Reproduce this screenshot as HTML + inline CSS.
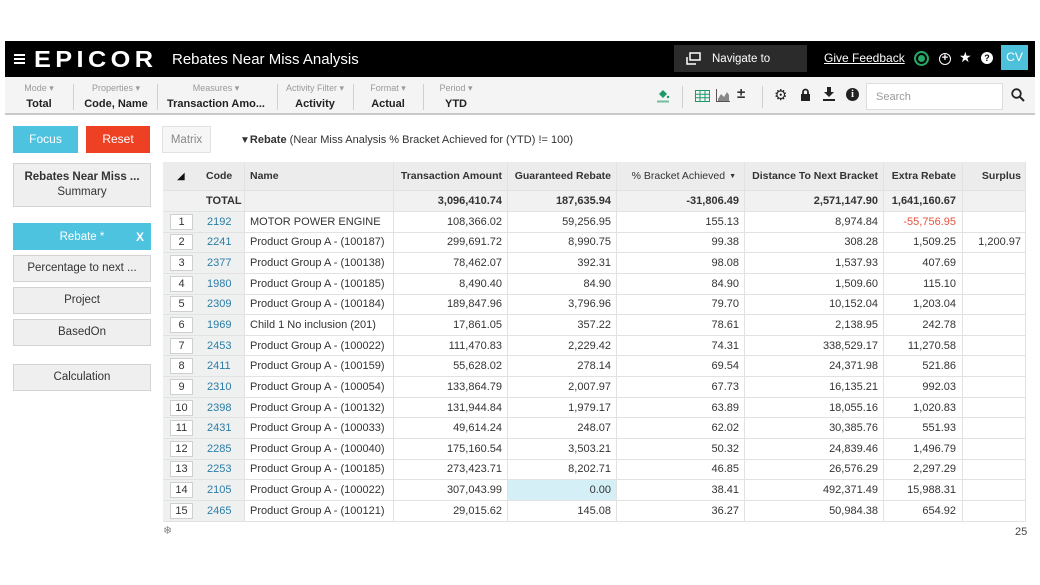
<!DOCTYPE html>
<html><head><meta charset="utf-8">
<style>
*{box-sizing:border-box;margin:0;padding:0}
body{width:1040px;height:585px;background:#fff;font-family:"Liberation Sans",Arial,sans-serif;color:#333;position:relative;overflow:hidden}
.a{position:absolute}
.topbar{left:5px;top:41px;width:1030px;height:36px;background:#000}
.tb{left:5px;top:77px;width:1030px;height:38px;background:#f4f4f4;border-bottom:2px solid #c9c9c9}
.grp{position:absolute;top:0;height:36px;text-align:center}
.grp .l{font-size:9px;color:#9a9a9a;margin-top:6px;white-space:nowrap}
.grp .v{font-size:11px;font-weight:bold;color:#222;margin-top:4px;white-space:nowrap}
.sep{position:absolute;width:1px;background:#d0d0d0}
.btn{position:absolute;font-size:12px;text-align:center;white-space:nowrap}
.lp{position:absolute;left:13px;width:138px;background:#efefef;border:1px solid #d3d3d3;font-size:11.5px;text-align:center;color:#333}
.row{position:absolute;left:163px;width:863px;display:flex;font-size:11px;border-bottom:1px solid #e2e2e2}
.row>div{height:100%;display:flex;align-items:center;border-right:1px solid #e2e2e2;white-space:nowrap;overflow:hidden}
.c0{width:33px;justify-content:flex-start;padding-left:7px;border-right:none!important}
.c1{width:49px;padding-left:11px}
.c2{width:149px;padding-left:5px}
.c3{width:114px;justify-content:flex-end;padding-right:5px}
.c4{width:109px;justify-content:flex-end;padding-right:5px}
.c5{width:128px;justify-content:flex-end;padding-right:5px}
.c6{width:139px;justify-content:flex-end;padding-right:5px}
.c7{width:79px;justify-content:flex-end;padding-right:6px}
.c8{width:63px;justify-content:flex-end;padding-right:4px;border-right:1px solid #e2e2e2}
.body .c0,.body .c1{background:#eff0f0}
.body .c1{color:#2b7da6}
.ib{width:23px;height:16px;background:#fff;border:1px solid #cfcfcf;display:flex;align-items:center;justify-content:center;font-size:11px;color:#333}
.hdr{background:#ececec;font-weight:bold;font-size:10.5px}
.tot{background:#f1f1f1;font-weight:bold}
</style></head><body>

<!-- Top black bar -->
<div class="a topbar"></div>
<div class="a" style="left:14px;top:54px;width:11px;height:2px;background:#fff;box-shadow:0 4px 0 #fff,0 8px 0 #fff"></div>
<div class="a" style="left:34px;top:47px;font-size:23px;font-weight:bold;color:#fff;letter-spacing:4px;transform:scaleX(1.1);transform-origin:left;line-height:24px">EPICOR</div>
<div class="a" style="left:172px;top:51px;font-size:15px;color:#fff">Rebates Near Miss Analysis</div>

<div class="a" style="left:674px;top:45px;width:133px;height:27px;background:#2b2b2b"></div>
<svg class="a" style="left:685px;top:52px" width="16" height="14" viewBox="0 0 16 14"><rect x="5" y="1" width="10" height="7" fill="none" stroke="#fff" stroke-width="1.5"/><path d="M2 5v7h9" fill="none" stroke="#fff" stroke-width="1.5"/></svg>
<div class="a" style="left:712px;top:53px;font-size:11.5px;color:#fff">Navigate to</div>
<div class="a" style="left:824px;top:51px;font-size:12px;color:#fff;text-decoration:underline">Give Feedback</div>
<div class="a" style="left:914px;top:51px;width:15px;height:15px;border-radius:50%;background:#27a866;border:2px solid #27a866;box-shadow:inset 0 0 0 2px #000"></div>
<div class="a" style="left:939px;top:53px;width:12px;height:12px;border-radius:50%;border:1.5px solid #fff;color:#fff;font-size:11px;line-height:9px;text-align:center;font-weight:bold">+</div>
<div class="a" style="left:959px;top:50px;font-size:14px;color:#fff;font-family:'DejaVu Sans',sans-serif">★</div>
<div class="a" style="left:981px;top:52px;width:12px;height:12px;border-radius:50%;background:#fff;color:#000;font-size:9px;line-height:12px;text-align:center;font-weight:bold">?</div>
<div class="a" style="left:1001px;top:45px;width:27px;height:25px;background:#4dc1dc;color:#fff;font-size:12px;line-height:25px;text-align:center">CV</div>

<!-- Toolbar -->
<div class="a tb"></div>
<div class="grp" style="left:9px;top:77px;width:60px"><div class="l">Mode ▾</div><div class="v">Total</div></div>
<div class="sep" style="left:73px;top:84px;height:26px"></div>
<div class="grp" style="left:76px;top:77px;width:80px"><div class="l">Properties ▾</div><div class="v">Code, Name</div></div>
<div class="sep" style="left:157px;top:84px;height:26px"></div>
<div class="grp" style="left:160px;top:77px;width:112px"><div class="l">Measures ▾</div><div class="v">Transaction Amo...</div></div>
<div class="sep" style="left:277px;top:84px;height:26px"></div>
<div class="grp" style="left:279px;top:77px;width:72px"><div class="l">Activity Filter ▾</div><div class="v">Activity</div></div>
<div class="sep" style="left:353px;top:84px;height:26px"></div>
<div class="grp" style="left:355px;top:77px;width:66px"><div class="l">Format ▾</div><div class="v">Actual</div></div>
<div class="sep" style="left:423px;top:84px;height:26px"></div>
<div class="grp" style="left:426px;top:77px;width:60px"><div class="l">Period ▾</div><div class="v">YTD</div></div>

<svg class="a" style="left:656px;top:88px" width="14" height="15" viewBox="0 0 14 15"><path d="M3 6l4-4 4 4-4 4z" fill="#1e9a6a"/><circle cx="12" cy="9" r="1.2" fill="#1e9a6a"/><rect x="1" y="12.5" width="12" height="2" fill="#1e9a6a" opacity=".6"/></svg>
<div class="sep" style="left:682px;top:86px;height:22px"></div>
<svg class="a" style="left:695px;top:90px" width="15" height="12" viewBox="0 0 15 12"><rect x=".5" y=".5" width="14" height="11" fill="none" stroke="#1e9a6a"/><path d="M5 .5v11M10 .5v11M.5 4.2h14M.5 7.8h14" stroke="#1e9a6a"/></svg>
<svg class="a" style="left:716px;top:89px" width="14" height="13" viewBox="0 0 14 13"><path d="M.5 0v12.5H14" fill="none" stroke="#555"/><path d="M2 10l3-5 3 3 3-5 2 3v6H2z" fill="#888"/></svg>
<div class="a" style="left:737px;top:85px;font-size:15px;color:#333;font-weight:bold">±</div>
<div class="sep" style="left:762px;top:86px;height:22px"></div>
<div class="a" style="left:774px;top:86px;font-size:15px;color:#222;font-family:'DejaVu Sans',sans-serif">⚙</div>
<svg class="a" style="left:800px;top:88px" width="11" height="13" viewBox="0 0 11 13"><path d="M3 6V4a2.5 2.5 0 015 0v2" fill="none" stroke="#222" stroke-width="1.8"/><rect x="1" y="6" width="9" height="7" fill="#222"/></svg>
<svg class="a" style="left:823px;top:87px" width="12" height="14" viewBox="0 0 12 14"><path d="M4 0h4v5h3L6 10 1 5h3z" fill="#222"/><rect x="0" y="12" width="12" height="2" fill="#222"/></svg>
<div class="a" style="left:846px;top:88px;width:13px;height:13px;border-radius:50%;background:#222;color:#fff;font-size:10px;line-height:13px;text-align:center;font-weight:bold;font-family:'Liberation Serif',serif">i</div>
<div class="a" style="left:866px;top:83px;width:137px;height:27px;background:#fff;border:1px solid #ddd"></div>
<div class="a" style="left:876px;top:91px;font-size:11px;color:#9a9a9a">Search</div>
<svg class="a" style="left:1011px;top:88px" width="14" height="14" viewBox="0 0 14 14"><circle cx="5.5" cy="5.5" r="4.3" fill="none" stroke="#222" stroke-width="1.8"/><path d="M8.6 8.6L13 13" stroke="#222" stroke-width="2"/></svg>

<!-- Buttons -->
<div class="btn" style="left:13px;top:126px;width:65px;height:27px;line-height:27px;background:#4ec3df;color:#fff">Focus</div>
<div class="btn" style="left:86px;top:126px;width:64px;height:27px;line-height:27px;background:#ee4124;color:#fff">Reset</div>
<div class="btn" style="left:162px;top:126px;width:49px;height:27px;line-height:27px;background:#f6f6f6;border:1px solid #e2e2e2;color:#888;font-size:11.5px">Matrix</div>
<div class="a" style="left:240px;top:134px;font-size:11px;color:#333;white-space:nowrap"><span style="font-size:10px">▼</span><b>Rebate</b> (Near Miss Analysis % Bracket Achieved for (YTD) != 100)</div>

<!-- Left panel -->
<div class="lp" style="top:163px;height:44px;padding-top:6px;line-height:15px"><b>Rebates Near Miss ...</b><br>Summary</div>
<div class="lp" style="top:223px;height:27px;line-height:27px;background:#4ec3df;border-color:#4ec3df;color:#fff">Rebate *<span style="position:absolute;right:6px;font-weight:bold;font-size:12px">X</span></div>
<div class="lp" style="top:255px;height:27px;line-height:25px">Percentage to next ...</div>
<div class="lp" style="top:287px;height:27px;line-height:25px">Project</div>
<div class="lp" style="top:319px;height:27px;line-height:25px">BasedOn</div>
<div class="lp" style="top:364px;height:27px;line-height:25px">Calculation</div>

<!-- Table header -->
<div class="row hdr" style="top:162px;height:29px">
<div class="c0" style="padding-left:14px"><span style="font-family:'DejaVu Sans',sans-serif;font-size:10px;color:#111">◢</span></div>
<div class="c1" style="padding-left:10px;border-right:1px solid #e2e2e2">Code</div>
<div class="c2">Name</div>
<div class="c3">Transaction Amount</div>
<div class="c4">Guaranteed Rebate</div>
<div class="c5" style="font-weight:normal;padding-right:8px">% Bracket Achieved <span style="font-size:7px;margin-left:4px">▼</span></div>
<div class="c6">Distance To Next Bracket</div>
<div class="c7">Extra Rebate</div>
<div class="c8">Surplus</div>
</div>
<div class="row tot" style="top:191px;height:21px">
<div class="c0"></div>
<div class="c1" style="padding-left:10px;border-right:1px solid #e2e2e2">TOTAL</div>
<div class="c2"></div>
<div class="c3">3,096,410.74</div>
<div class="c4">187,635.94</div>
<div class="c5">-31,806.49</div>
<div class="c6">2,571,147.90</div>
<div class="c7">1,641,160.67</div>
<div class="c8"></div>
</div>

<div class="body">
<div class="row" style="top:212px;height:20.64px"><div class="c0"><div class="ib">1</div></div><div class="c1">2192</div><div class="c2">MOTOR POWER ENGINE</div><div class="c3">108,366.02</div><div class="c4">59,256.95</div><div class="c5">155.13</div><div class="c6">8,974.84</div><div class="c7" style="color:#e5533c">-55,756.95</div><div class="c8"></div></div>
<div class="row" style="top:232.64px;height:20.64px"><div class="c0"><div class="ib">2</div></div><div class="c1">2241</div><div class="c2">Product Group A - (100187)</div><div class="c3">299,691.72</div><div class="c4">8,990.75</div><div class="c5">99.38</div><div class="c6">308.28</div><div class="c7">1,509.25</div><div class="c8">1,200.97</div></div>
<div class="row" style="top:253.28px;height:20.64px"><div class="c0"><div class="ib">3</div></div><div class="c1">2377</div><div class="c2">Product Group A - (100138)</div><div class="c3">78,462.07</div><div class="c4">392.31</div><div class="c5">98.08</div><div class="c6">1,537.93</div><div class="c7">407.69</div><div class="c8"></div></div>
<div class="row" style="top:273.92px;height:20.64px"><div class="c0"><div class="ib">4</div></div><div class="c1">1980</div><div class="c2">Product Group A - (100185)</div><div class="c3">8,490.40</div><div class="c4">84.90</div><div class="c5">84.90</div><div class="c6">1,509.60</div><div class="c7">115.10</div><div class="c8"></div></div>
<div class="row" style="top:294.56px;height:20.64px"><div class="c0"><div class="ib">5</div></div><div class="c1">2309</div><div class="c2">Product Group A - (100184)</div><div class="c3">189,847.96</div><div class="c4">3,796.96</div><div class="c5">79.70</div><div class="c6">10,152.04</div><div class="c7">1,203.04</div><div class="c8"></div></div>
<div class="row" style="top:315.2px;height:20.64px"><div class="c0"><div class="ib">6</div></div><div class="c1">1969</div><div class="c2">Child 1 No inclusion (201)</div><div class="c3">17,861.05</div><div class="c4">357.22</div><div class="c5">78.61</div><div class="c6">2,138.95</div><div class="c7">242.78</div><div class="c8"></div></div>
<div class="row" style="top:335.84px;height:20.64px"><div class="c0"><div class="ib">7</div></div><div class="c1">2453</div><div class="c2">Product Group A - (100022)</div><div class="c3">111,470.83</div><div class="c4">2,229.42</div><div class="c5">74.31</div><div class="c6">338,529.17</div><div class="c7">11,270.58</div><div class="c8"></div></div>
<div class="row" style="top:356.48px;height:20.64px"><div class="c0"><div class="ib">8</div></div><div class="c1">2411</div><div class="c2">Product Group A - (100159)</div><div class="c3">55,628.02</div><div class="c4">278.14</div><div class="c5">69.54</div><div class="c6">24,371.98</div><div class="c7">521.86</div><div class="c8"></div></div>
<div class="row" style="top:377.12px;height:20.64px"><div class="c0"><div class="ib">9</div></div><div class="c1">2310</div><div class="c2">Product Group A - (100054)</div><div class="c3">133,864.79</div><div class="c4">2,007.97</div><div class="c5">67.73</div><div class="c6">16,135.21</div><div class="c7">992.03</div><div class="c8"></div></div>
<div class="row" style="top:397.76px;height:20.64px"><div class="c0"><div class="ib">10</div></div><div class="c1">2398</div><div class="c2">Product Group A - (100132)</div><div class="c3">131,944.84</div><div class="c4">1,979.17</div><div class="c5">63.89</div><div class="c6">18,055.16</div><div class="c7">1,020.83</div><div class="c8"></div></div>
<div class="row" style="top:418.4px;height:20.64px"><div class="c0"><div class="ib">11</div></div><div class="c1">2431</div><div class="c2">Product Group A - (100033)</div><div class="c3">49,614.24</div><div class="c4">248.07</div><div class="c5">62.02</div><div class="c6">30,385.76</div><div class="c7">551.93</div><div class="c8"></div></div>
<div class="row" style="top:439.04px;height:20.64px"><div class="c0"><div class="ib">12</div></div><div class="c1">2285</div><div class="c2">Product Group A - (100040)</div><div class="c3">175,160.54</div><div class="c4">3,503.21</div><div class="c5">50.32</div><div class="c6">24,839.46</div><div class="c7">1,496.79</div><div class="c8"></div></div>
<div class="row" style="top:459.68px;height:20.64px"><div class="c0"><div class="ib">13</div></div><div class="c1">2253</div><div class="c2">Product Group A - (100185)</div><div class="c3">273,423.71</div><div class="c4">8,202.71</div><div class="c5">46.85</div><div class="c6">26,576.29</div><div class="c7">2,297.29</div><div class="c8"></div></div>
<div class="row" style="top:480.32px;height:20.64px"><div class="c0"><div class="ib">14</div></div><div class="c1">2105</div><div class="c2">Product Group A - (100022)</div><div class="c3">307,043.99</div><div class="c4" style="background:#d4f0f6">0.00</div><div class="c5">38.41</div><div class="c6">492,371.49</div><div class="c7">15,988.31</div><div class="c8"></div></div>
<div class="row" style="top:500.96px;height:20.64px"><div class="c0"><div class="ib">15</div></div><div class="c1">2465</div><div class="c2">Product Group A - (100121)</div><div class="c3">29,015.62</div><div class="c4">145.08</div><div class="c5">36.27</div><div class="c6">50,984.38</div><div class="c7">654.92</div><div class="c8"></div></div>
</div>

<div class="a" style="left:163px;top:524px;font-size:11px;color:#888;font-family:'DejaVu Sans',sans-serif">❄</div>
<div class="a" style="left:1015px;top:526px;font-size:11px;color:#444">25</div>
</body></html>
